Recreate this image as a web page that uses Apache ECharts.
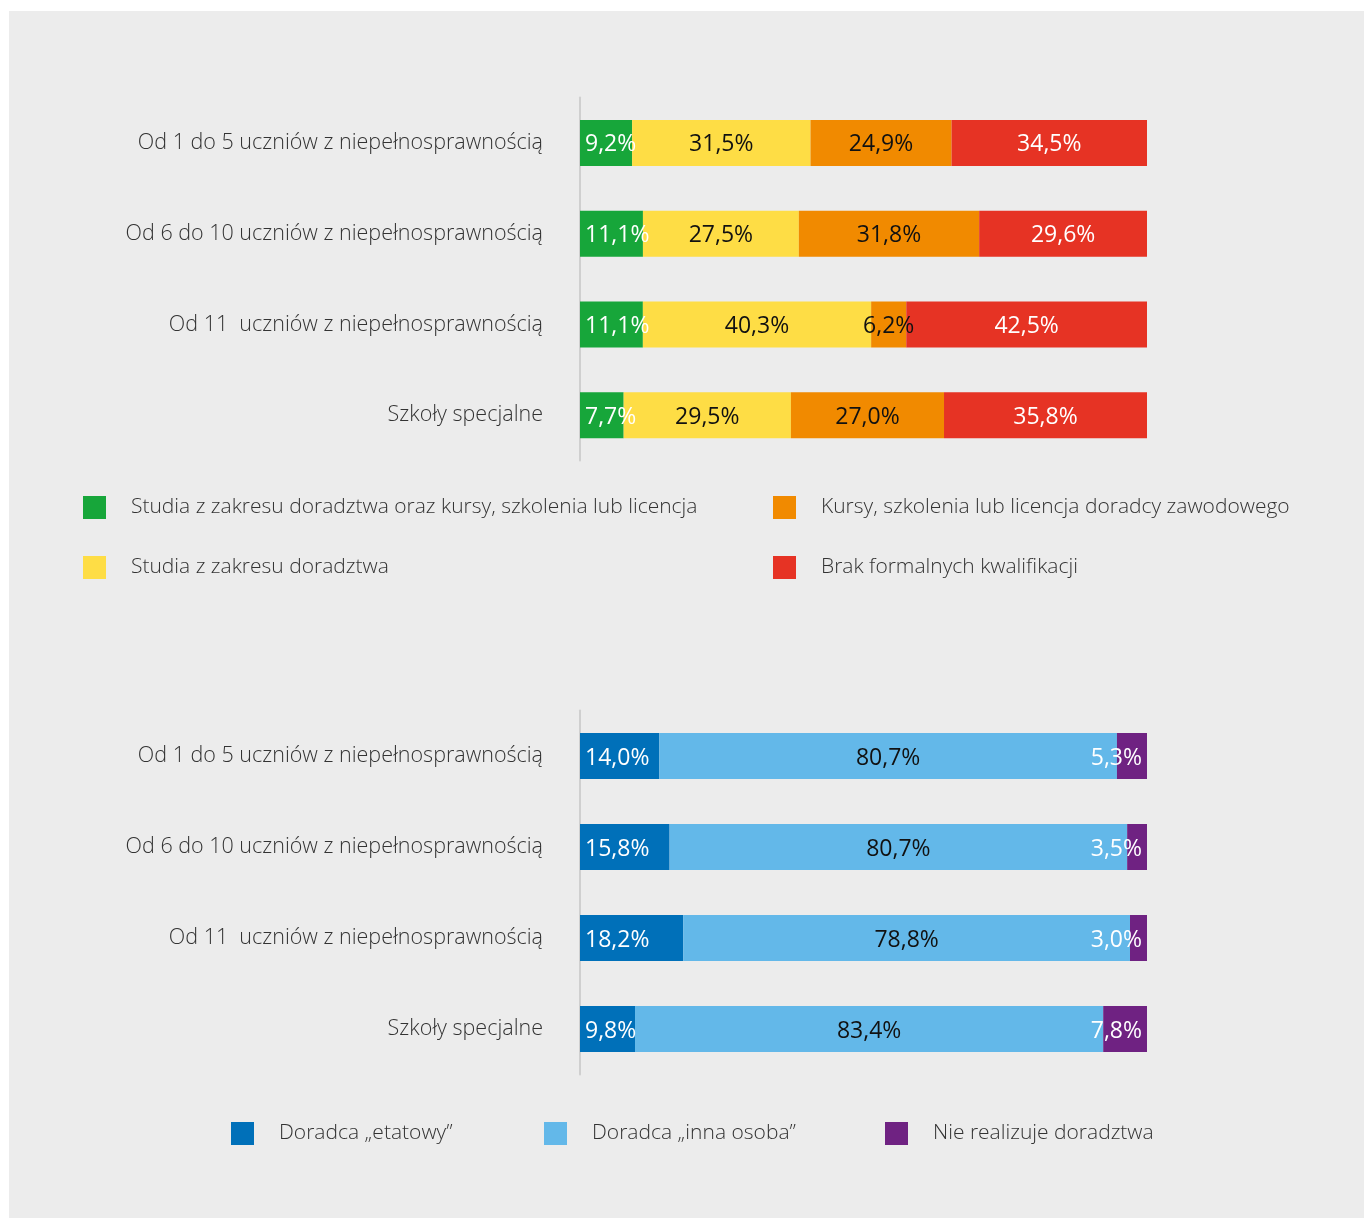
<!DOCTYPE html>
<html>
<head>
<meta charset="utf-8">
<script src="https://cdn.jsdelivr.net/npm/echarts@6/dist/echarts.min.js"></script>
<style>
  html, body { margin: 0; padding: 0; background: #fff; }
  #chart { width: 1364px; height: 1218px; }
</style>
</head>
<body>
<div id="chart"></div>
<script>
// kategorie (wspólne dla obu wykresów)
const categories = [
  'Od 1 do 5 uczniów z niepełnosprawnością',
  'Od 6 do 10 uczniów z niepełnosprawnością',
  'Od 11  uczniów z niepełnosprawnością',
  'Szkoły specjalne'
]

// wykres górny - kwalifikacje
const topNames = [
  'Studia z zakresu doradztwa oraz kursy, szkolenia lub licencja',
  'Studia z zakresu doradztwa',
  'Kursy, szkolenia lub licencja doradcy zawodowego',
  'Brak formalnych kwalifikacji'
]
const studiaKursy = [9.2, 11.1, 11.1, 7.7]
const studia = [31.5, 27.5, 40.3, 29.5]
const kursy = [24.9, 31.8, 6.2, 27.0]
const brak = [34.5, 29.6, 42.5, 35.8]

// wykres dolny - kto realizuje doradztwo
const bottomNames = [
  'Doradca „etatowy”',
  'Doradca „inna osoba”',
  'Nie realizuje doradztwa'
]
const etatowy = [14.0, 15.8, 18.2, 9.8]
const innaOsoba = [80.7, 80.7, 78.8, 83.4]
const nieRealizuje = [5.3, 3.5, 3.0, 7.8]

const FONT = '"Open Sans", "Noto Sans", sans-serif'

// wiersze skalowane do 100%, etykiety pokazują oryginalną wartość
function rows(list) {
  return list[0].map((_, i) => list.reduce((s, arr) => s + arr[i], 0))
}
function toData(arr, sums) {
  return arr.map((v, i) => ({ value: v / sums[i] * 100, raw: v }))
}
const topSums = rows([studiaKursy, studia, kursy, brak])
const bottomSums = rows([etatowy, innaOsoba, nieRealizuje])

function fmt(p) {
  return p.data.raw.toFixed(1).replace('.', ',') + '%'
}

function bar(name, arr, sums, color, idx, labelPos, labelColor) {
  return {
    name: name,
    type: 'bar',
    stack: 'row' + idx,
    xAxisIndex: idx,
    yAxisIndex: idx,
    barWidth: 46,
    itemStyle: { color: color },
    label: {
      show: true,
      position: labelPos,
      color: labelColor,
      fontFamily: FONT,
      fontSize: 23,
      offset: [0, 2],
      formatter: fmt
    },
    emphasis: { disabled: true },
    data: toData(arr, sums)
  }
}

function legendItem(name, left, top) {
  return {
    data: [name],
    left: left,
    top: top,
    padding: 0,
    icon: 'rect',
    itemWidth: 23,
    itemHeight: 23,
    selectedMode: false,
    textStyle: {
      fontFamily: FONT,
      fontWeight: 300,
      fontSize: 21,
      color: '#333',
      padding: [0, 0, 0, 20]
    }
  }
}

function catAxis(idx) {
  return {
    type: 'category',
    gridIndex: idx,
    inverse: true,
    data: categories,
    axisLine: { lineStyle: { color: '#cfcfcf', width: 2 } },
    axisTick: { show: false },
    axisLabel: {
      margin: 37,
      padding: [4, 0, 0, 0],
      fontFamily: FONT,
      fontWeight: 300,
      fontSize: 21.5,
      color: '#333'
    }
  }
}

function valAxis(idx) {
  return {
    type: 'value',
    gridIndex: idx,
    min: 0,
    max: 100,
    show: false,
    splitLine: { show: false }
  }
}

let myChart = echarts.init(document.getElementById('chart'))
myChart.setOption({
  animation: false,
  graphic: [
    {
      type: 'rect',
      z: -10,
      shape: { x: 9, y: 11, width: 1364, height: 1218 },
      style: { fill: '#ececec' }
    }
  ],
  grid: [
    { left: 580, width: 567, top: 97.5, height: 363 },
    { left: 580, width: 567, top: 710.5, height: 364 }
  ],
  xAxis: [valAxis(0), valAxis(1)],
  yAxis: [catAxis(0), catAxis(1)],
  legend: [
    legendItem(topNames[0], 83, 496),
    legendItem(topNames[1], 83, 556),
    legendItem(topNames[2], 773, 496),
    legendItem(topNames[3], 773, 556),
    legendItem(bottomNames[0], 231, 1122),
    legendItem(bottomNames[1], 544, 1122),
    legendItem(bottomNames[2], 885, 1122)
  ],
  series: [
    bar(topNames[0], studiaKursy, topSums, '#17a63a', 0, 'insideLeft', '#fff'),
    bar(topNames[1], studia, topSums, '#fedd45', 0, 'inside', '#111'),
    bar(topNames[2], kursy, topSums, '#f18a00', 0, 'inside', '#111'),
    bar(topNames[3], brak, topSums, '#e63324', 0, 'inside', '#fff'),
    bar(bottomNames[0], etatowy, bottomSums, '#0070b9', 1, 'insideLeft', '#fff'),
    bar(bottomNames[1], innaOsoba, bottomSums, '#63b8e9', 1, 'inside', '#111'),
    bar(bottomNames[2], nieRealizuje, bottomSums, '#6f2282', 1, 'insideRight', '#fff')
  ]
})
</script>
</body>
</html>
